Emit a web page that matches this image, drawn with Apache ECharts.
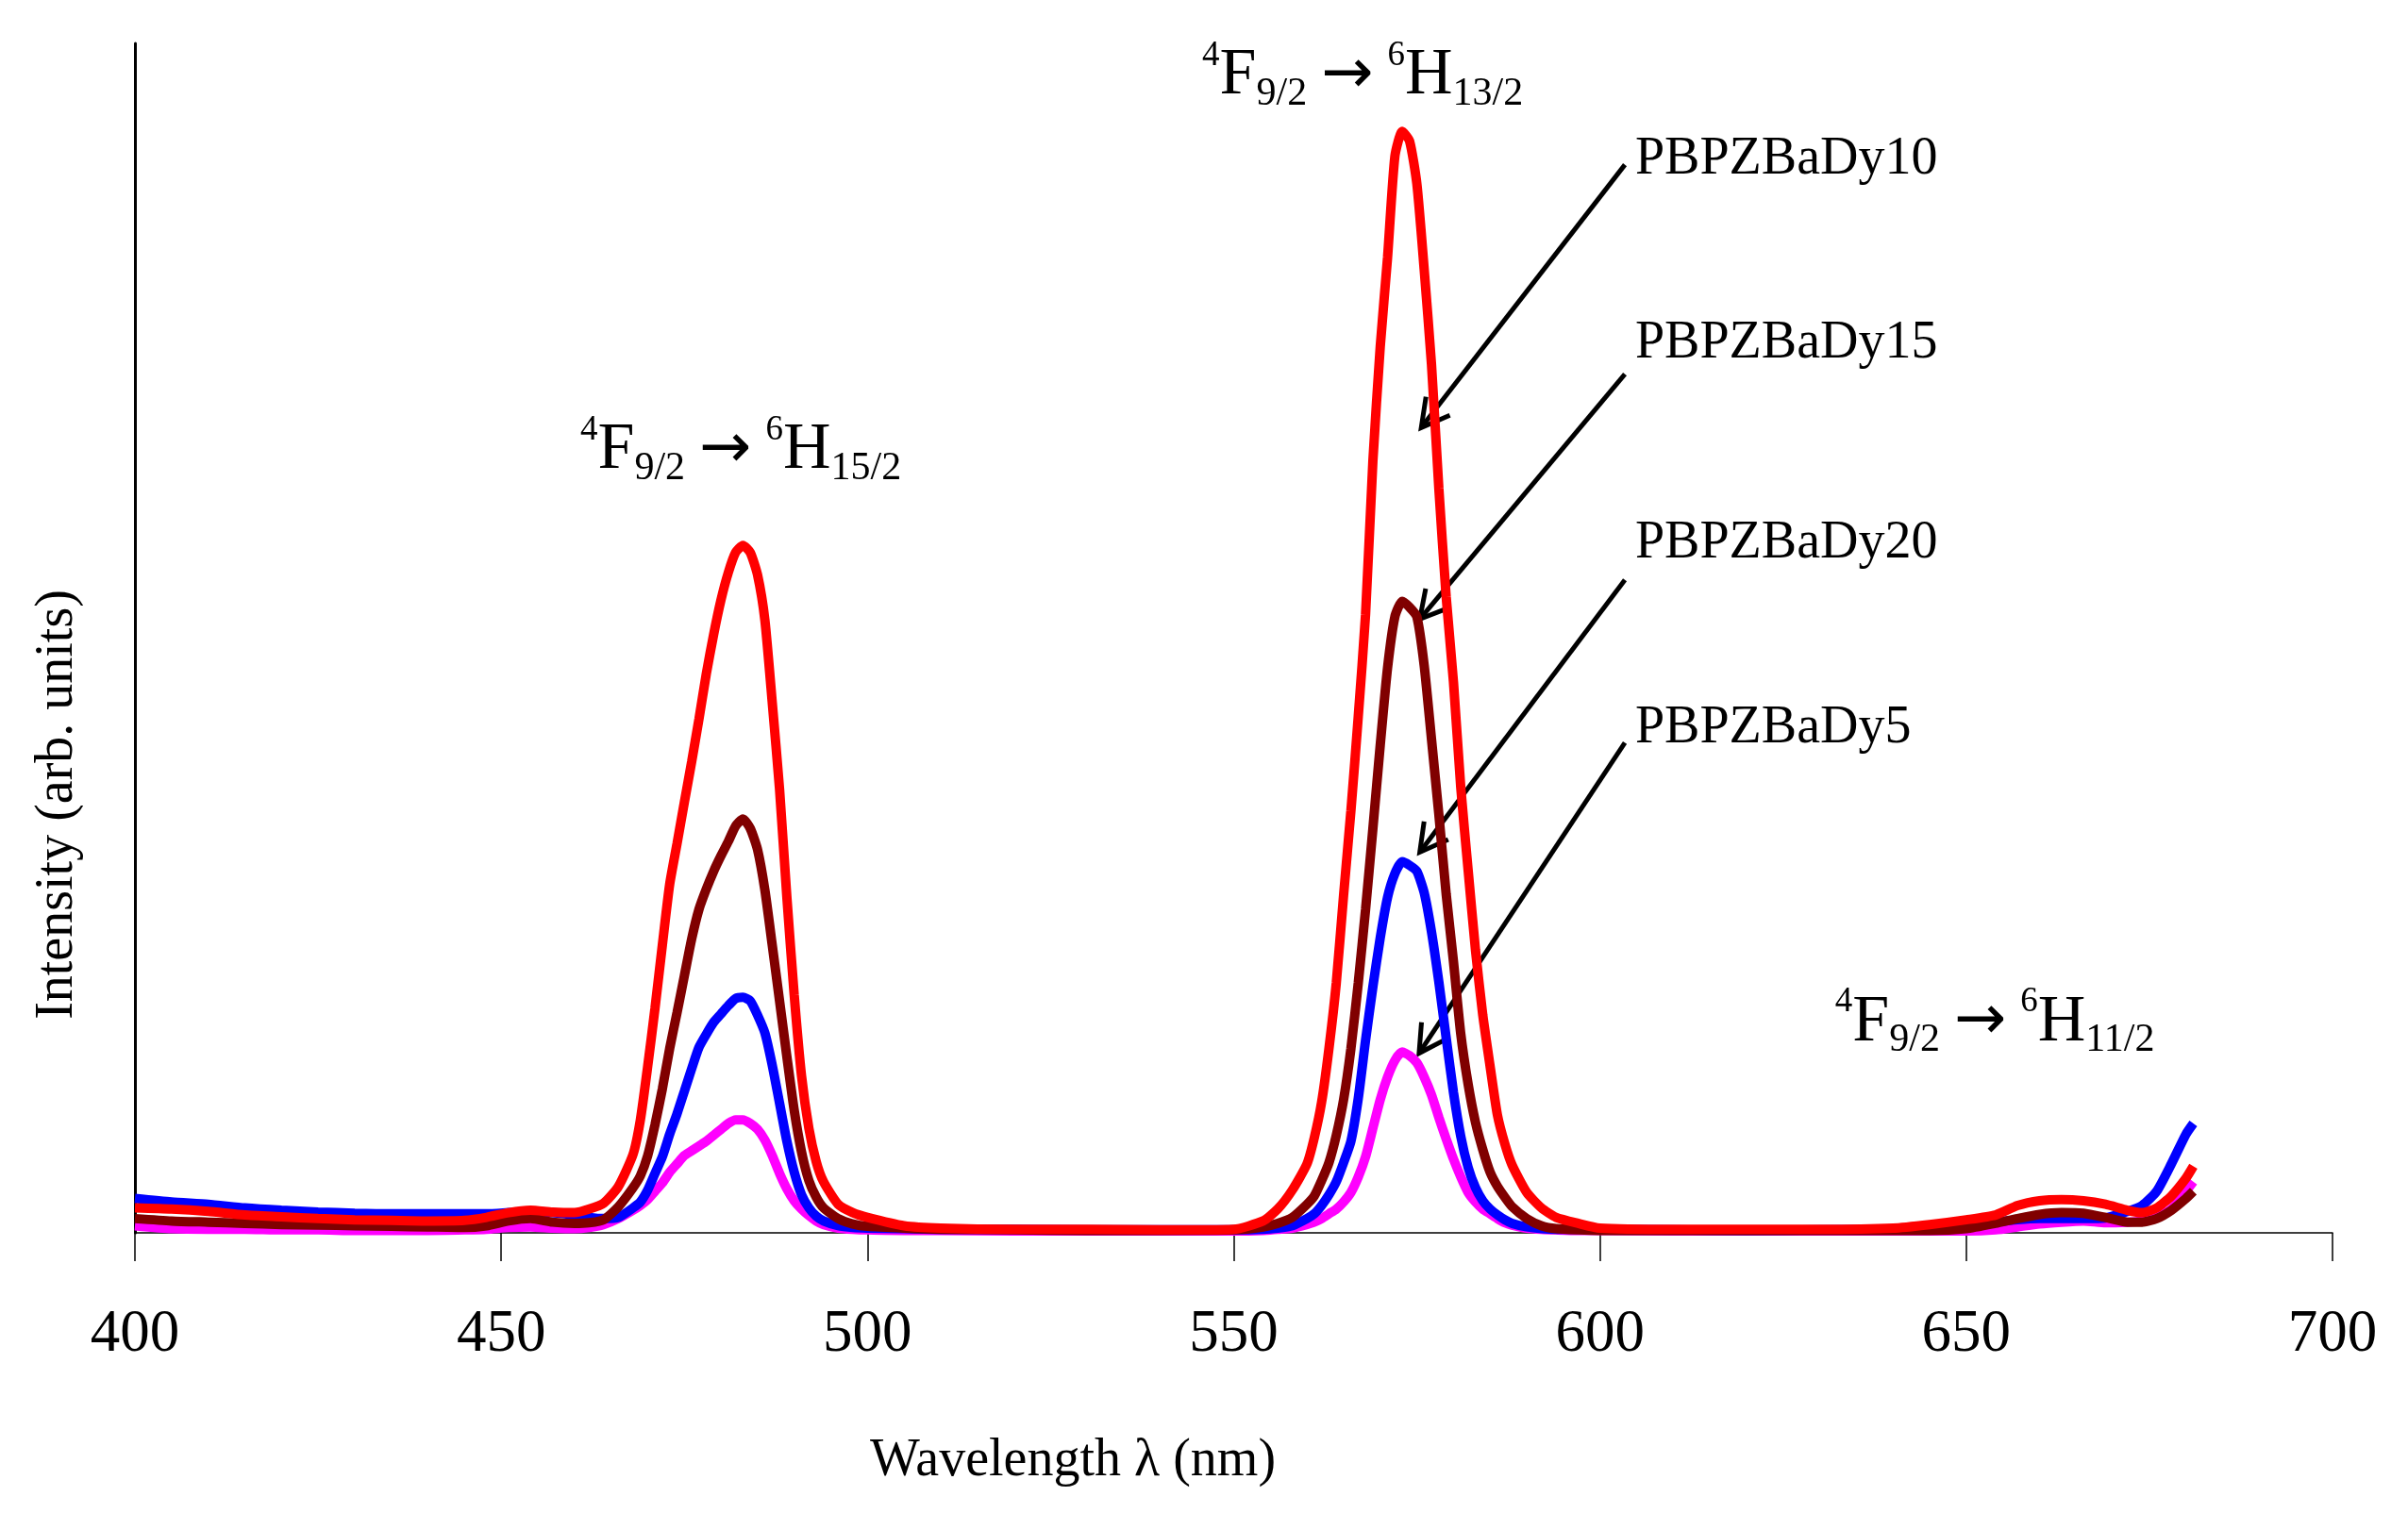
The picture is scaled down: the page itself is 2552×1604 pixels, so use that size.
<!DOCTYPE html>
<html><head><meta charset="utf-8">
<script src="https://cdn.jsdelivr.net/npm/echarts@6/dist/echarts.min.js"></script>
<style>html,body{margin:0;padding:0;background:#fff}#c{width:2552px;height:1604px}</style>
</head><body><div id="c"></div>
<script>
// ---- data (wavelength in nm, intensity in arbitrary units) ----
const wavelength = [400,405,410,415,420,425,430,435,440,445,
 448,451,454,457,460,462,464,466,468,469,
 470,471,472,473,474,475,476,477,478,479,
 480,481,482,483,484,485,486,487,488,489,
 490,491,492,493,494,496,498,500,505,510,
 520,530,540,550,554,556,558,560,561,562,
 563,564,565,566,567,568,569,570,571,572,
 573,574,575,576,577,578,579,580,581,582,
 583,584,585,586,587,588,590,592,594,597,
 600,610,620,630,640,645,650,654,657,660,
 663,666,669,672,674,676,678,680,681];

const dy10 = [2.1,2.0,1.8,1.5,1.35,1.2,1.1,1.05,1.0,1.05,
 1.3,1.7,1.9,1.75,1.7,2.0,2.5,3.9,6.6,9.5,
 14.0,18.9,24.2,29.3,32.7,36.2,39.6,43.2,47.0,50.3,
 53.2,55.5,57.2,57.8,57.2,55.3,51.5,44.6,37.3,28.2,
 20.0,13.2,8.8,6.0,4.3,2.4,1.7,1.3,0.6,0.4,
 0.3,0.3,0.25,0.3,1.0,2.0,3.6,5.8,8.0,11.0,
 15.5,21.0,28.4,35.5,43.4,52.0,64.9,74.5,82.0,90.5,
 92.6,91.8,88.2,81.0,73.0,62.6,53.5,46.3,37.4,30.5,
 23.8,18.3,14.0,9.9,7.5,5.7,3.4,2.1,1.3,0.8,
 0.4,0.3,0.3,0.3,0.4,0.7,1.1,1.5,2.3,2.7,
 2.8,2.7,2.4,1.9,1.7,2.1,3.1,4.6,5.6];

const dy15 = [1.2,1.0,0.9,0.8,0.7,0.65,0.6,0.55,0.5,0.45,
 0.6,1.0,1.2,0.9,0.8,0.85,1.1,2.2,3.8,4.8,
 6.5,9.1,12.1,15.5,18.5,21.6,24.7,27.2,28.9,30.4,
 31.7,32.9,34.2,34.8,34.0,32.2,28.8,24.2,19.5,14.8,
 10.3,6.8,4.4,3.0,2.1,1.2,0.75,0.55,0.4,0.3,
 0.25,0.2,0.2,0.25,0.5,0.8,1.3,2.4,3.1,4.4,
 5.9,8.2,11.2,15.5,21.0,27.2,34.0,41.0,47.5,51.8,
 53.1,52.6,51.8,47.7,41.5,35.2,28.5,22.8,16.7,12.5,
 9.3,7.0,5.1,3.9,3.0,2.2,1.2,0.6,0.35,0.25,
 0.2,0.2,0.2,0.2,0.2,0.2,0.35,0.8,1.2,1.55,
 1.7,1.65,1.3,0.9,0.9,1.2,1.9,2.9,3.5];

const dy20 = [2.9,2.6,2.4,2.1,1.9,1.75,1.65,1.6,1.6,1.6,
 1.6,1.7,1.8,1.7,1.5,1.3,1.2,1.3,2.1,2.6,
 3.6,5.0,6.4,8.3,10.0,11.9,13.8,15.6,16.7,17.7,
 18.4,19.1,19.7,19.8,19.5,18.3,16.8,14.1,10.9,7.7,
 5.1,3.2,2.1,1.4,1.0,0.6,0.45,0.4,0.35,0.3,
 0.3,0.25,0.25,0.25,0.3,0.4,0.6,1.2,1.6,2.3,
 3.2,4.3,5.9,7.7,11.3,16.2,20.7,24.8,28.2,30.2,
 31.2,30.9,30.4,28.6,25.3,21.1,16.4,11.8,8.1,5.5,
 3.8,2.7,2.0,1.5,1.1,0.8,0.5,0.35,0.3,0.3,
 0.3,0.25,0.2,0.25,0.3,0.4,0.6,0.9,1.1,1.2,
 1.2,1.2,1.25,1.8,2.3,3.5,5.8,8.3,9.2];

const dy5 = [0.6,0.35,0.3,0.3,0.25,0.25,0.2,0.2,0.2,0.25,
 0.3,0.45,0.5,0.4,0.35,0.45,0.7,1.2,1.9,2.3,
 2.8,3.5,4.2,5.1,5.8,6.5,6.9,7.3,7.7,8.2,
 8.7,9.2,9.5,9.5,9.2,8.7,7.8,6.5,5.0,3.7,
 2.7,2.0,1.45,1.0,0.7,0.4,0.3,0.25,0.2,0.2,
 0.15,0.15,0.15,0.15,0.2,0.3,0.4,0.7,0.9,1.2,
 1.6,2.0,2.6,3.4,4.7,6.4,8.8,11.2,13.1,14.5,
 15.2,14.9,14.3,13.1,11.6,9.7,7.9,6.2,4.7,3.4,
 2.6,2.0,1.6,1.2,0.85,0.65,0.4,0.3,0.25,0.2,
 0.2,0.15,0.15,0.15,0.15,0.15,0.15,0.25,0.5,0.75,
 0.9,1.0,0.85,0.9,1.0,1.3,2.0,3.5,4.3];

const xTicks = [400, 450, 500, 550, 600, 650, 700];
const sampleNames = ['PBPZBaDy10', 'PBPZBaDy15', 'PBPZBaDy20', 'PBPZBaDy5'];
const transitionUpper = ['15/2', '13/2', '11/2'];

// annotation anchors in data units [nm, intensity]
const transitionAnchors = [[460.8, 64.1], [545.7, 95.6], [632.1, 16.0]];
const labelAnchors = [[604.8, 88.8], [604.8, 73.3], [604.8, 56.5], [604.8, 41.0]];
const arrowStarts = [[603.4, 89.8], [603.4, 72.2], [603.4, 54.9], [603.4, 41.2]];
const arrowTips = [[575.6, 67.7], [575.4, 51.6], [575.4, 32.0], [575.3, 15.1]];

const FONT = '"Liberation Serif","Times New Roman",serif';

const chart = echarts.init(document.getElementById('c'), null, {renderer: 'canvas'});
function pairs(v) { return wavelength.map((w, i) => [w, v[i]]); }
function line(name, data, color) {
  return {
    name: name, type: 'line', data: pairs(data), showSymbol: false, smooth: 0.2,
    lineStyle: {color: color, width: 10}, itemStyle: {color: color}, silent: true
  };
}

chart.setOption({
  animation: false,
  backgroundColor: '#ffffff',
  grid: {left: 143, right: 80, top: 46, bottom: 297, containLabel: false},
  xAxis: {
    type: 'value', min: xTicks[0], max: xTicks[xTicks.length - 1], interval: xTicks[1] - xTicks[0],
    axisLine: {show: true, onZero: false, lineStyle: {color: '#000', width: 1.5}},
    axisTick: {show: true, inside: false, length: 30, lineStyle: {color: '#000', width: 1.5}},
    axisLabel: {fontFamily: FONT, fontSize: 63, color: '#000', margin: 77},
    splitLine: {show: false}
  },
  yAxis: {
    type: 'value', min: 0, max: 100,
    axisLine: {show: true, lineStyle: {color: '#000', width: 3}},
    axisTick: {show: false}, axisLabel: {show: false}, splitLine: {show: false}
  },
  series: [
    line(sampleNames[3], dy5, '#FF00FF'),
    line(sampleNames[2], dy20, '#0000FF'),
    line(sampleNames[1], dy15, '#800000'),
    line(sampleNames[0], dy10, '#FF0000')
  ]
});

function px(p) { return chart.convertToPixel({gridIndex: 0}, p); }
const g = [];
function txt(x, y, text, size, opts) {
  return {
    type: 'text', x: x, y: y, silent: true,
    style: Object.assign({
      text: text, fill: '#000', fontFamily: FONT, fontSize: size,
      align: 'left', textAlign: 'left', verticalAlign: 'middle', textVerticalAlign: 'middle'
    }, opts || {})
  };
}
// axis titles
g.push(txt(1137, 1549, 'Wavelength \u03bb (nm)', 56, {align: 'center', textAlign: 'center'}));
const yt = txt(61, 853, 'Intensity (arb. units)', 56, {align: 'center', textAlign: 'center'});
yt.rotation = Math.PI / 2;
g.push(yt);

// transition labels
const rich = {
  main: {fontFamily: FONT, fontSize: 70, lineHeight: 80, fill: '#000'},
  arr: {fontFamily: '"DejaVu Sans"', fontSize: 66, lineHeight: 80, fill: '#000'},
  sp: {fontFamily: FONT, fontSize: 60, lineHeight: 80, fill: '#000'},
  sup: {fontFamily: FONT, fontSize: 37, lineHeight: 38, verticalAlign: 'top', fill: '#000'},
  sub: {fontFamily: FONT, fontSize: 42, lineHeight: 42, verticalAlign: 'bottom', fill: '#000'}
};
transitionAnchors.forEach((a, i) => {
  const p = px(a);
  const t = '{sup|4}{main|F}{sub|9/2}{sp| }{arr|\u2192}{sp| }{sup|6}{main|H}{sub|' + transitionUpper[i] + '}';
  g.push(txt(p[0], p[1] - 21, t, 70, {rich: rich}));
});

// sample labels
labelAnchors.forEach((a, i) => {
  const p = px(a);
  g.push(txt(p[0], p[1] - 18, sampleNames[i], 56));
});

// arrows
arrowStarts.forEach((s, i) => {
  const a = px(s), b = px(arrowTips[i]);
  g.push({type: 'polyline', silent: true, shape: {points: [a, b]},
    style: {stroke: '#000', lineWidth: 5, fill: null}});
  const dx = a[0] - b[0], dy = a[1] - b[1], L = Math.hypot(dx, dy);
  const ux = dx / L, uy = dy / L, ang = 29 * Math.PI / 180, len = 33;
  const r1 = [b[0] + len * (ux * Math.cos(ang) - uy * Math.sin(ang)), b[1] + len * (ux * Math.sin(ang) + uy * Math.cos(ang))];
  const r2 = [b[0] + len * (ux * Math.cos(-ang) - uy * Math.sin(-ang)), b[1] + len * (ux * Math.sin(-ang) + uy * Math.cos(-ang))];
  g.push({type: 'polyline', silent: true, shape: {points: [r1, b, r2]},
    style: {stroke: '#000', lineWidth: 5, fill: null, lineJoin: 'miter'}});
});

chart.setOption({graphic: {elements: g}});
</script>
</body></html>
